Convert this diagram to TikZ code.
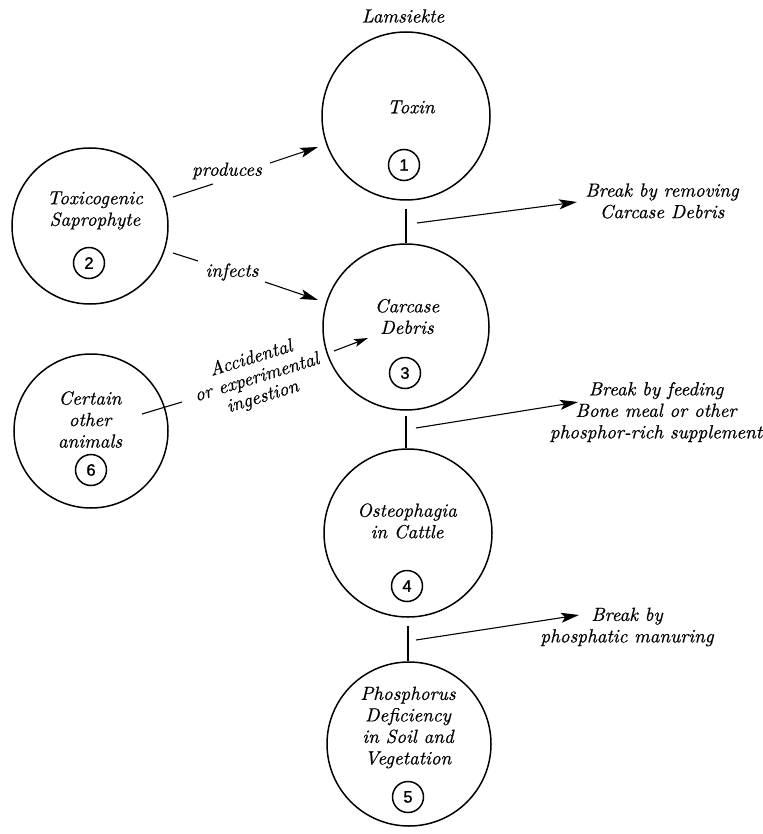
\documentclass[tikz,border=0pt]{standalone}
\usepackage{fontspec}
\usetikzlibrary{arrows.meta}
\newfontfamily\lblfont{lmroman10-italic.otf}[FakeBold=0.6]
\newfontfamily\numfont{Liberation Sans}[FakeBold=1.2]
\begin{document}
\begin{tikzpicture}[x=1pt,y=-1pt,
  bigcirc/.style={circle,draw,line width=1.5pt,inner sep=0pt},
  numcirc/.style={circle,draw,line width=1.5pt,minimum size=31pt,inner sep=0pt,font=\numfont\fontsize{16.5}{16.5}\selectfont},
  lbl/.style={align=center,font=\lblfont\fontsize{19}{21.5}\selectfont,inner sep=0pt},
  conn/.style={line width=1.1pt},
  arr/.style={conn,-{Stealth[length=18pt,width=10pt,inset=4pt]}},
  sarr/.style={conn,-{Stealth[length=14pt,width=8pt,inset=3pt]}}
  ]
\useasboundingbox (0,0) rectangle (762,834);
% main circles
\node[bigcirc,minimum size=168pt] (c1) at (406,116) {};
\node[bigcirc,minimum size=156pt] (c2) at (90,226) {};
\node[bigcirc,minimum size=166pt] (c3) at (406,327) {};
\node[bigcirc,minimum size=168pt] (c4) at (408,533) {};
\node[bigcirc,minimum size=164pt] (c5) at (409,744) {};
\node[bigcirc,minimum size=154pt] (c6) at (91,431) {};
% numbers
\node[numcirc] (n1) at (404,165) {1};
\node[numcirc] (n2) at (89,263) {2};
\node[numcirc] (n3) at (405,373) {3};
\node[numcirc] (n4) at (407,586) {4};
\node[numcirc] (n5) at (408,797) {5};
\node[numcirc] (n6) at (91,470) {6};
% texts
\node[lbl] (tl) at (403,16) {Lamsiekte};
\node[lbl] (t1) at (411,107) {Toxin};
\node[lbl] (t2) at (95,210.5) {Toxicogenic\\Saprophyte};
\node[lbl] (t3) at (407,316.5) {Carcase\\Debris};
\node[lbl] (t6) at (90,419.5) {Certain\\other\\animals};
\node[lbl] (t4) at (407,521) {Osteophagia\\in Cattle};
\node[lbl] (t5) at (408,727.5) {Phosphorus\\Deficiency\\in Soil and\\Vegetation};
\node[lbl] (b1) at (662,201) {Break by removing\\Carcase Debris};
\node[lbl] (b2) at (656,412) {Break by feeding\\Bone meal or other\\phosphor-rich supplement};
\node[lbl] (b3) at (627,627) {Break by\\phosphatic manuring};
\node[lbl] (lp) at (227,171) {produces};
\node[lbl] (li) at (232,272) {infects};
\node[lbl,rotate=17,font=\lblfont\fontsize{19}{20}\selectfont] (la) at (257,378) {Accidental\\or experimental\\ingestion};
% vertical links
\draw[conn] ([yshift=-8pt]c1.south) -- (c1.south |- c3.north);
\draw[conn] ([yshift=-5pt]c3.south) -- (c3.south |- c4.north);
\draw[conn] ([yshift=-8pt]c4.south) -- (c4.south |- c5.north);
% produces
\coordinate (p1) at (173,197); \coordinate (p2) at (213,184);
\coordinate (p3) at (270,163); \coordinate (p4) at (318,147);
\draw[conn] (p1) -- (p2);
\draw[arr] (p3) -- (p4);
% infects
\coordinate (i1) at (173,253); \coordinate (i2) at (198,261);
\coordinate (i3) at (265,282); \coordinate (i4) at (318,300);
\draw[conn] (i1) -- (i2);
\draw[arr] (i3) -- (i4);
% accidental
\coordinate (a1) at (142,414); \coordinate (a2) at (182,402);
\coordinate (a3) at (334,351); \coordinate (a4) at (368,338);
\draw[conn] (a1) -- (a2);
\draw[sarr] (a3) -- (a4);
% break arrows
\coordinate (s1) at (417,223); \coordinate (e1) at (577,202);
\coordinate (s2) at (416,428); \coordinate (e2) at (578,402);
\coordinate (s3) at (416,640); \coordinate (e3) at (579,615);
\draw[arr] (s1) -- (e1);
\draw[arr] (s2) -- (e2);
\draw[arr] (s3) -- (e3);
\end{tikzpicture}
\end{document}
